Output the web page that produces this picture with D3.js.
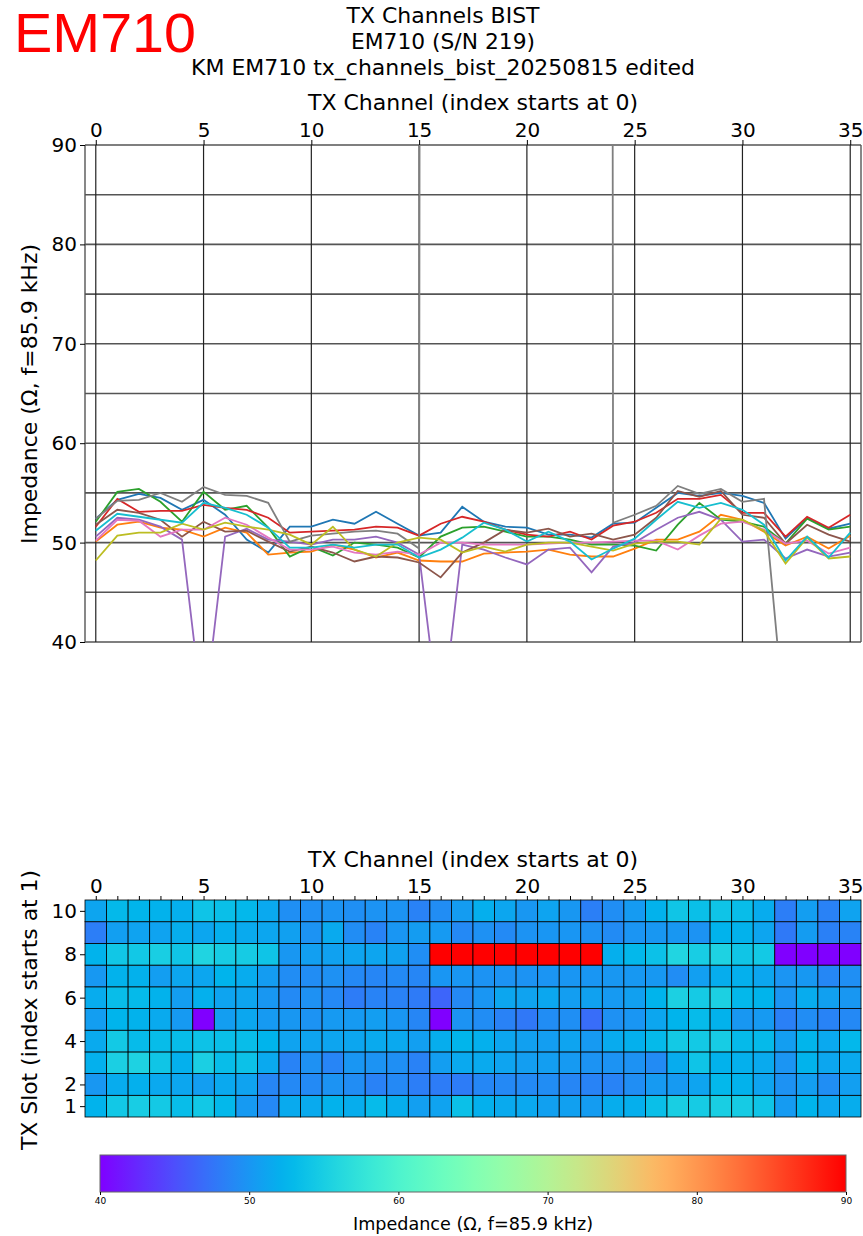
<!DOCTYPE html>
<html>
<head>
<meta charset="utf-8">
<script src="https://cdn.jsdelivr.net/npm/d3@7"></script>
<style>
	body { margin: 0; background: #fff; }
	text { font-family: 'DejaVu Sans', sans-serif; fill: #000; }
</style>
</head>
<body>
<div id="chart"></div>
<script>
// TX channel index (0..35) and slot numbers
const channels = [0, 1, 2, 3, 4, 5, 6, 7, 8, 9, 10, 11, 12, 13, 14, 15, 16, 17, 18, 19, 20, 21, 22, 23, 24, 25, 26, 27, 28, 29, 30, 31, 32, 33, 34, 35]
const slots = [1, 2, 3, 4, 5, 6, 7, 8, 9, 10]

// impedance per slot (ohm)
const slot1 = [52.4, 54.3, 54.9, 54.5, 53.3, 54.3, 52.8, 50.3, 49.0, 51.6, 51.6, 52.3, 51.9, 53.1, 51.9, 50.7, 51.0, 53.6, 52.1, 51.6, 51.5, 50.8, 50.8, 50.5, 51.9, 52.0, 53.5, 55.0, 54.7, 55.0, 54.7, 54.0, 50.4, 52.5, 51.4, 51.9]
const slot2 = [50.1, 51.8, 52.1, 51.5, 51.3, 50.6, 51.5, 51.0, 48.8, 49.0, 49.1, 49.8, 49.3, 48.5, 49.0, 48.2, 48.1, 48.1, 48.9, 49.0, 49.1, 49.3, 48.8, 48.6, 48.6, 49.4, 50.3, 50.3, 51.1, 52.8, 52.3, 51.1, 49.7, 50.6, 49.4, 50.7]
const slot3 = [52.1, 55.1, 55.4, 54.1, 52.1, 55.1, 53.3, 53.7, 51.5, 48.6, 49.6, 48.7, 50.0, 49.8, 49.5, 48.5, 50.6, 51.5, 51.6, 51.1, 50.6, 50.6, 50.3, 49.8, 49.8, 49.7, 49.2, 51.8, 54.0, 52.3, 52.1, 51.6, 49.9, 52.4, 51.3, 51.6]
const slot4 = [51.6, 54.4, 53.1, 53.2, 53.2, 53.8, 53.5, 53.3, 52.5, 51.0, 51.1, 51.2, 51.3, 51.6, 51.5, 50.7, 51.9, 52.6, 52.1, 51.3, 50.8, 50.6, 51.1, 50.3, 51.7, 52.1, 53.0, 54.4, 54.4, 54.8, 53.0, 53.0, 50.6, 52.6, 51.5, 52.8]
const slot5 = [50.6, 52.5, 52.3, 51.6, 50.3, 32.0, 50.6, 51.4, 50.3, 50.1, 49.8, 50.3, 50.3, 50.6, 50.0, 48.8, 31.0, 49.8, 49.3, 48.5, 47.8, 49.3, 49.5, 47.0, 49.6, 50.0, 51.3, 52.5, 53.1, 52.3, 50.1, 50.3, 48.4, 49.3, 48.6, 49.0]
const slot6 = [51.8, 53.3, 53.0, 52.3, 50.6, 52.1, 51.1, 51.2, 50.1, 49.1, 49.6, 49.0, 48.1, 48.6, 48.5, 48.0, 46.5, 49.0, 50.0, 51.3, 51.0, 51.4, 50.6, 50.9, 50.3, 50.8, 52.5, 55.2, 54.6, 55.2, 52.8, 52.5, 49.9, 51.8, 50.8, 50.1]
const slot7 = [50.2, 52.3, 52.2, 50.6, 51.3, 51.3, 52.5, 51.8, 50.5, 49.3, 49.3, 49.6, 49.0, 48.8, 49.1, 48.8, 50.0, 50.0, 49.8, 49.8, 49.8, 49.9, 50.0, 50.0, 50.1, 50.2, 50.2, 49.3, 50.7, 51.9, 52.1, 51.3, 49.9, 50.2, 48.9, 49.5]
const slot8 = [52.4, 54.2, 54.3, 55.0, 54.1, 55.6, 54.8, 54.7, 54.0, 50.1, 50.7, 50.9, 51.1, 51.2, 50.9, 49.4, 2000, 2000, 2000, 2000, 2000, 2000, 2000, 2000, 52.0, 52.8, 53.7, 55.7, 54.9, 55.4, 54.1, 54.4, 31.0, 30.0, 30.0, 30.0]
const slot9 = [48.2, 50.7, 51.0, 51.0, 51.9, 51.3, 52.0, 51.6, 51.3, 50.8, 49.8, 51.6, 49.3, 48.6, 50.0, 50.5, 50.3, 49.0, 49.6, 49.1, 49.8, 50.0, 50.0, 49.6, 49.2, 49.9, 50.1, 50.1, 49.8, 52.4, 52.3, 51.2, 47.9, 50.5, 48.4, 48.6]
const slot10 = [51.2, 52.9, 52.6, 52.3, 52.0, 54.0, 53.5, 52.8, 51.5, 49.5, 49.5, 49.8, 49.5, 49.8, 49.8, 48.5, 49.3, 50.5, 52.0, 51.3, 50.1, 51.1, 50.1, 48.3, 49.4, 50.4, 52.3, 54.1, 53.5, 54.0, 53.3, 51.8, 48.2, 50.6, 48.5, 51.0]

const series = [slot1, slot2, slot3, slot4, slot5, slot6, slot7, slot8, slot9, slot10]

// tick values
const channelTicks = [0, 5, 10, 15, 20, 25, 30, 35]
const impedanceTicks = [40, 50, 60, 70, 80, 90]
const impedanceGrid = [40, 45, 50, 55, 60, 65, 70, 75, 80, 85, 90]
const slotTicks = [1, 2, 4, 6, 8, 10]
const colorbarTicks = [40, 50, 60, 70, 80, 90]

const lineColors = ['#1f77b4', '#ff7f0e', '#2ca02c', '#d62728', '#9467bd', '#8c564b', '#e377c2', '#7f7f7f', '#bcbd22', '#17becf']

// matplotlib 'rainbow' colormap
const rainbow = t => {
	const c = v => Math.round(255 * Math.max(0, Math.min(1, v)))
	return `rgb(${c(Math.abs(2 * t - 0.5))},${c(Math.sin(Math.PI * t))},${c(Math.cos(Math.PI * t / 2))})`
}

const W = 863
const H = 1236

const svg = d3
	.select('#chart')
	.append('svg')
	.attr('width', W)
	.attr('height', H)

svg.append('rect').attr('width', W).attr('height', H).attr('fill', '#fff')

// big red label
svg
	.append('text')
	.attr('x', 14)
	.attr('y', 52)
	.attr('textLength', 182)
	.attr('lengthAdjust', 'spacingAndGlyphs')
	.style('font-family', "'Liberation Sans', sans-serif")
	.style('font-size', '56px')
	.style('fill', '#ff0000')
	.text('EM710')

const titles = [
	{ text: 'TX Channels BIST', y: 23, len: 193 },
	{ text: 'EM710 (S/N 219)', y: 49, len: 184 },
	{ text: 'KM EM710 tx_channels_bist_20250815 edited', y: 75, len: 504 }
]

svg
	.selectAll('.title')
	.data(titles)
	.enter()
	.append('text')
	.classed('title', true)
	.attr('x', 443)
	.attr('y', d => d.y)
	.attr('text-anchor', 'middle')
	.attr('textLength', d => d.len)
	.attr('lengthAdjust', 'spacingAndGlyphs')
	.style('font-size', '21px')
	.text(d => d.text)

// ---------- line plot ----------
const plot = { left: 85, right: 861, top: 145, bottom: 642 }

const x = d3
	.scaleLinear()
	.domain([-0.5, 35.5])
	.range([plot.left, plot.right])

const y = d3
	.scaleLinear()
	.domain([40, 90])
	.range([plot.bottom, plot.top])

svg
	.append('defs')
	.append('clipPath')
	.attr('id', 'plotClip')
	.append('rect')
	.attr('x', plot.left)
	.attr('y', plot.top)
	.attr('width', plot.right - plot.left)
	.attr('height', plot.bottom - plot.top)

const grid = svg.append('g').classed('grid', true)

grid
	.selectAll('.hgrid')
	.data(impedanceGrid)
	.enter()
	.append('line')
	.attr('x1', plot.left)
	.attr('x2', plot.right)
	.attr('y1', d => y(d))
	.attr('y2', d => y(d))
	.attr('stroke', '#555')
	.attr('stroke-width', 1.6)

grid
	.selectAll('.vgrid')
	.data(channelTicks)
	.enter()
	.append('line')
	.attr('x1', d => x(d))
	.attr('x2', d => x(d))
	.attr('y1', plot.top)
	.attr('y2', plot.bottom)
	.attr('stroke', '#222')
	.attr('stroke-width', 1.2)

// spines
grid
	.selectAll('.spine')
	.data([plot.left, plot.right])
	.enter()
	.append('line')
	.attr('x1', d => d)
	.attr('x2', d => d)
	.attr('y1', plot.top)
	.attr('y2', plot.bottom)
	.attr('stroke', '#555')
	.attr('stroke-width', 1.4)

const line = d3
	.line()
	.x((d, i) => x(channels[i]))
	.y(d => y(d))

svg
	.append('g')
	.attr('clip-path', 'url(#plotClip)')
	.selectAll('path')
	.data(series)
	.enter()
	.append('path')
	.attr('d', line)
	.attr('fill', 'none')
	.attr('stroke', (d, i) => lineColors[i])
	.attr('stroke-width', 1.8)

const xAxis = g =>
	g
		.attr('transform', `translate(0,${plot.top})`)
		.call(d3.axisTop(x).tickValues(channelTicks).tickSize(5).tickPadding(3))
		.call(g => g.select('.domain').remove())
		.call(g => g.selectAll('text').style('font-size', '20px'))

const yAxis = g =>
	g
		.attr('transform', `translate(${plot.left},0)`)
		.call(d3.axisLeft(y).tickValues(impedanceTicks).tickSize(5).tickPadding(3))
		.call(g => g.select('.domain').remove())
		.call(g => g.selectAll('text').style('font-size', '20px'))

svg.append('g').call(xAxis)
svg.append('g').call(yAxis)

svg
	.append('text')
	.attr('x', 473)
	.attr('y', 110)
	.attr('text-anchor', 'middle')
	.attr('textLength', 330)
	.attr('lengthAdjust', 'spacingAndGlyphs')
	.style('font-size', '21px')
	.text('TX Channel (index starts at 0)')

svg
	.append('text')
	.attr('transform', 'translate(37,394) rotate(-90)')
	.attr('text-anchor', 'middle')
	.attr('textLength', 300)
	.attr('lengthAdjust', 'spacingAndGlyphs')
	.style('font-size', '21px')
	.text('Impedance (Ω, f=85.9 kHz)')

// ---------- heatmap ----------
const heat = { top: 900, bottom: 1117 }

const yh = d3
	.scaleLinear()
	.domain([0.5, 10.5])
	.range([heat.bottom, heat.top])

const color = d3
	.scaleSequential(rainbow)
	.domain([40, 90])
	.clamp(true)

const cells = []
series.forEach((values, s) =>
	values.forEach((v, c) => cells.push({ slot: slots[s], channel: channels[c], value: v }))
)

svg
	.append('g')
	.selectAll('rect')
	.data(cells)
	.enter()
	.append('rect')
	.attr('x', d => x(d.channel - 0.5))
	.attr('y', d => yh(d.slot + 0.5))
	.attr('width', x(1) - x(0))
	.attr('height', yh(0) - yh(1))
	.attr('fill', d => color(d.value))
	.attr('stroke', '#000')
	.attr('stroke-width', 0.8)

svg
	.append('g')
	.attr('transform', `translate(0,${heat.top})`)
	.call(d3.axisTop(x).tickValues(channels).tickSize(4).tickPadding(3).tickFormat(d => (d % 5 ? '' : d)))
	.call(g => g.select('.domain').remove())
	.call(g => g.selectAll('text').style('font-size', '20px'))

svg
	.append('g')
	.attr('transform', `translate(${plot.left},0)`)
	.call(d3.axisLeft(yh).tickValues(slotTicks).tickSize(5).tickPadding(3))
	.call(g => g.select('.domain').remove())
	.call(g => g.selectAll('text').style('font-size', '20px'))

svg
	.append('text')
	.attr('x', 473)
	.attr('y', 867)
	.attr('text-anchor', 'middle')
	.attr('textLength', 330)
	.attr('lengthAdjust', 'spacingAndGlyphs')
	.style('font-size', '21px')
	.text('TX Channel (index starts at 0)')

svg
	.append('text')
	.attr('transform', 'translate(37,1010) rotate(-90)')
	.attr('text-anchor', 'middle')
	.attr('textLength', 280)
	.attr('lengthAdjust', 'spacingAndGlyphs')
	.style('font-size', '21px')
	.text('TX Slot (index starts at 1)')

// ---------- colorbar ----------
const bar = { left: 100, right: 846, top: 1155, bottom: 1192 }

const cb = d3
	.scaleLinear()
	.domain([40, 90])
	.range([bar.left, bar.right])

const grad = svg
	.select('defs')
	.append('linearGradient')
	.attr('id', 'rainbowGrad')

grad
	.selectAll('stop')
	.data(d3.range(0, 1.0001, 0.02))
	.enter()
	.append('stop')
	.attr('offset', d => `${d * 100}%`)
	.attr('stop-color', d => rainbow(d))

svg
	.append('rect')
	.attr('x', bar.left)
	.attr('y', bar.top)
	.attr('width', bar.right - bar.left)
	.attr('height', bar.bottom - bar.top)
	.attr('fill', 'url(#rainbowGrad)')
	.attr('stroke', '#666')
	.attr('stroke-width', 1)

svg
	.append('g')
	.attr('transform', `translate(0,${bar.bottom})`)
	.call(d3.axisBottom(cb).tickValues(colorbarTicks).tickSize(3).tickPadding(3))
	.call(g => g.select('.domain').remove())
	.call(g => g.selectAll('text').style('font-size', '9px'))

svg
	.append('text')
	.attr('x', 473)
	.attr('y', 1230)
	.attr('text-anchor', 'middle')
	.attr('textLength', 240)
	.attr('lengthAdjust', 'spacingAndGlyphs')
	.style('font-size', '17px')
	.text('Impedance (Ω, f=85.9 kHz)')
</script>
</body>
</html>
